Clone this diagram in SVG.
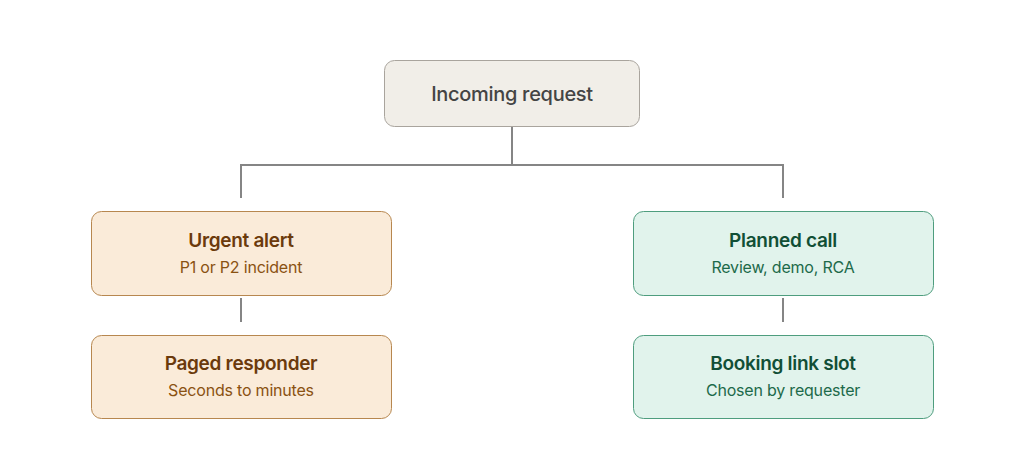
<svg xmlns="http://www.w3.org/2000/svg" width="1024" height="452" viewBox="0 0 1024 452">
<style>
text{font-family:Inter,"Noto Sans",sans-serif;text-anchor:middle}
.t{font-size:19px;font-weight:600;letter-spacing:-0.3px}
.s{font-size:16px;letter-spacing:-0.2px}
.c{stroke:#858585;stroke-width:2;fill:none}
.o rect{fill:#faebd9;stroke:#b7874f}
.o .t{fill:#6b3a0c}.o .s{fill:#8a5212}
.g rect{fill:#e1f3ec;stroke:#4e9d7e}
.g .t{fill:#114f36}.g .s{fill:#1d6a4a}
</style>
<rect width="1024" height="452" fill="#fff"/>
<g id="connectors" class="c">
<path d="M512 126V165M241 198V165H783V198"/>
<path d="M241 298V322M783 298V322"/>
</g>
<g id="incoming"><rect x="384.5" y="60.5" width="255" height="66" rx="10" fill="#f1eee8" stroke="#a9a49d"/><text x="512" y="101" style="font-size:20px;font-weight:500;letter-spacing:-0.3px" fill="#444">Incoming request</text></g>
<g id="urgent" class="o"><rect x="91.5" y="211.5" width="300" height="84" rx="10"/><text class="t" x="241" y="247">Urgent alert</text><text class="s" x="241" y="273">P1 or P2 incident</text></g>
<g id="paged" class="o"><rect x="91.5" y="335.5" width="300" height="83" rx="10"/><text class="t" x="241" y="370">Paged responder</text><text class="s" x="241" y="396">Seconds to minutes</text></g>
<g id="planned" class="g"><rect x="633.5" y="211.5" width="300" height="84" rx="10"/><text class="t" x="783" y="247">Planned call</text><text class="s" x="783" y="273">Review, demo, RCA</text></g>
<g id="booking" class="g"><rect x="633.5" y="335.5" width="300" height="83" rx="10"/><text class="t" x="783" y="370">Booking link slot</text><text class="s" x="783" y="396">Chosen by requester</text></g>
</svg>
